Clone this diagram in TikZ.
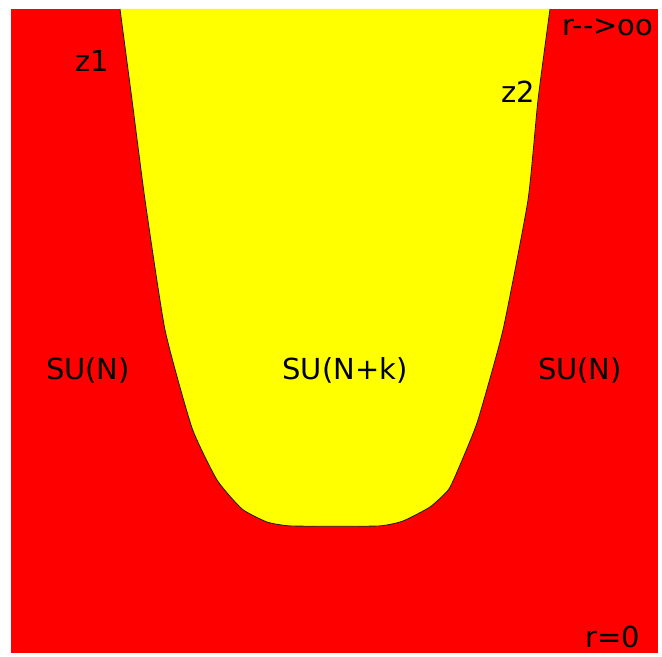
\documentclass[tikz,border=0pt]{standalone}
\usepackage{fontspec}
\usepackage{xcolor}
\usepackage{tikz}
\newfontfamily\regionfont{DejaVu Sans}
\definecolor{phasered}{HTML}{FF0000}
\definecolor{phaseyellow}{HTML}{FFFF00}
\definecolor{wallink}{HTML}{1A1A1A}

\begin{document}
\begin{tikzpicture}[x=0.025cm,y=-0.025cm,
  lbl/.style={font=\regionfont\fontsize{20.6}{24}\selectfont,text=black,anchor=base,inner sep=0pt},
  wall/.style={draw=wallink,line width=0.6pt,fill=phaseyellow}]
\useasboundingbox (0,0) rectangle (662,656);
\fill[white] (0,0) rectangle (662,656);
% outer SU(N) phase
\fill[phasered] (11,9) rectangle (658,653);
% inner SU(N+k) region bounded by the wall
\filldraw[wall] plot[smooth,tension=0.3] coordinates {
  (120,9) (132,100) (145,200) (165,330) (192,428) (217,480)
  (242,509) (267,522) (292,526) (378,526) (403,521)
  (430,507) (449,489) (463,458) (478,420) (503,330) (528,200)
  (538,100) (550,9)};
\node[lbl] (sunleft) at (88,379) {SU(N)};
\node[lbl] (sunk) at (345,379) {SU(N+k)};
\node[lbl] (sunright) at (580,379) {SU(N)};
\node[lbl] (zone) at (92,72) {z1};
\node[lbl] (ztwo) at (518,103) {z2};
\node[lbl] (rinf) at (608,36) {r-->oo};
\node[lbl] (rzero) at (613,647) {r=0};
\end{tikzpicture}
\end{document}
